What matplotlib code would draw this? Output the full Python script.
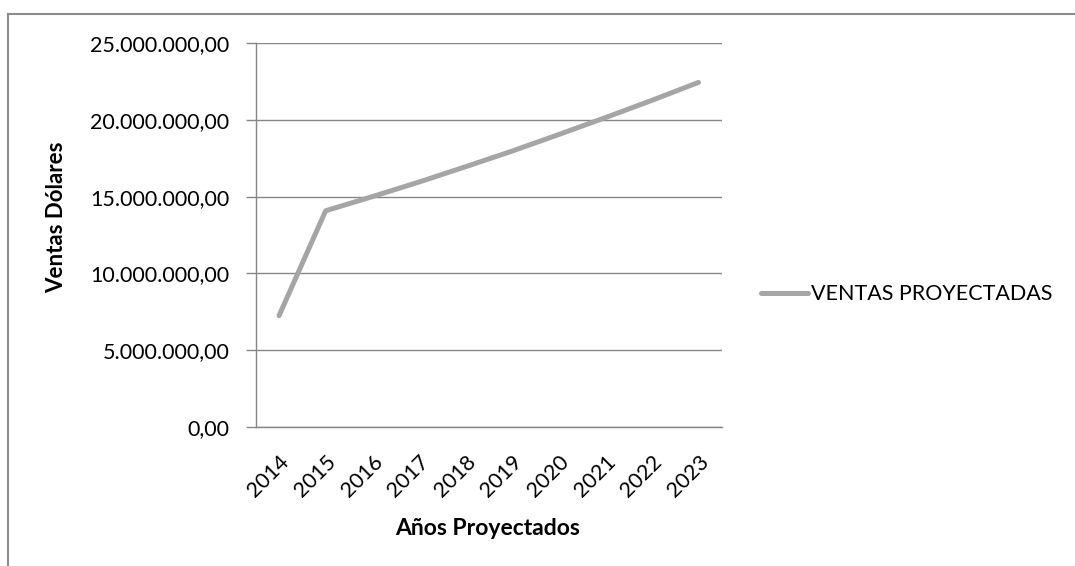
import matplotlib
matplotlib.use("Agg")
import matplotlib.pyplot as plt
from matplotlib.ticker import FuncFormatter, MultipleLocator
from matplotlib.lines import Line2D

# Proyección de ventas anuales (USD)
years = ["2014", "2015", "2016", "2017", "2018", "2019", "2020", "2021", "2022", "2023"]
sales = [7240000, 14080000, 15000000, 15950000, 16950000, 17970000,
         19050000, 20150000, 21280000, 22450000]
series_name = "VENTAS PROYECTADAS"
y_title = "Ventas Dólares"
x_title = "Años Proyectados"

plt.rcParams["font.family"] = ["Lato", "DejaVu Sans"]

fig = plt.figure(figsize=(10.75, 5.66), dpi=100)
ax = fig.add_axes([0.2379, 0.2461, 0.4335, 0.6774])

line_color = "#A5A5A5"
grid_color = "#868686"

x = list(range(len(years)))
ax.plot(x, sales, color=line_color, linewidth=3.6, solid_capstyle="round",
        solid_joinstyle="round", label=series_name)

ax.set_xlim(-0.5, len(years) - 0.5)
ax.set_ylim(0, 25000000)
ax.yaxis.set_major_locator(MultipleLocator(5000000))


def es_format(v, pos):
    s = f"{v:,.2f}"
    return s.replace(",", "X").replace(".", ",").replace("X", ".")


ax.yaxis.set_major_formatter(FuncFormatter(es_format))
ax.grid(axis="y", color=grid_color, linewidth=1.0)
ax.set_axisbelow(True)

for side in ("top", "right"):
    ax.spines[side].set_visible(False)
for side in ("left", "bottom"):
    ax.spines[side].set_color(grid_color)
    ax.spines[side].set_linewidth(1.0)

ax.tick_params(axis="y", length=7, width=1, color=grid_color, labelsize=15.5,
               labelcolor="black", pad=12)
ax.tick_params(axis="x", length=0, labelsize=15.5, labelcolor="black", pad=18)
ax.set_xticks(x)
ax.set_xticklabels(years, rotation=45, ha="right", rotation_mode="anchor")

fig.text(0.053, 0.617, y_title, rotation=90, ha="center", va="center",
         fontsize=16, fontweight="bold")
fig.text(0.4535, 0.067, x_title, ha="center", va="center",
         fontsize=16.5, fontweight="bold")

ax.legend(loc="center left", bbox_to_anchor=(0.6995, 0.48),
          bbox_transform=fig.transFigure, frameon=False, fontsize=15.5,
          handlelength=2.2, handletextpad=0.15, borderaxespad=0)

# Marco exterior del área del gráfico (bordes superior e izquierdo)
fig.add_artist(Line2D([0.0079, 1.0], [0.9744, 0.9744], transform=fig.transFigure,
                      color="#8C8C8C", linewidth=1.5))
fig.add_artist(Line2D([0.0079, 0.0079], [0.0, 0.9744], transform=fig.transFigure,
                      color="#8C8C8C", linewidth=1.5))

fig.savefig("out.png", dpi=100)
